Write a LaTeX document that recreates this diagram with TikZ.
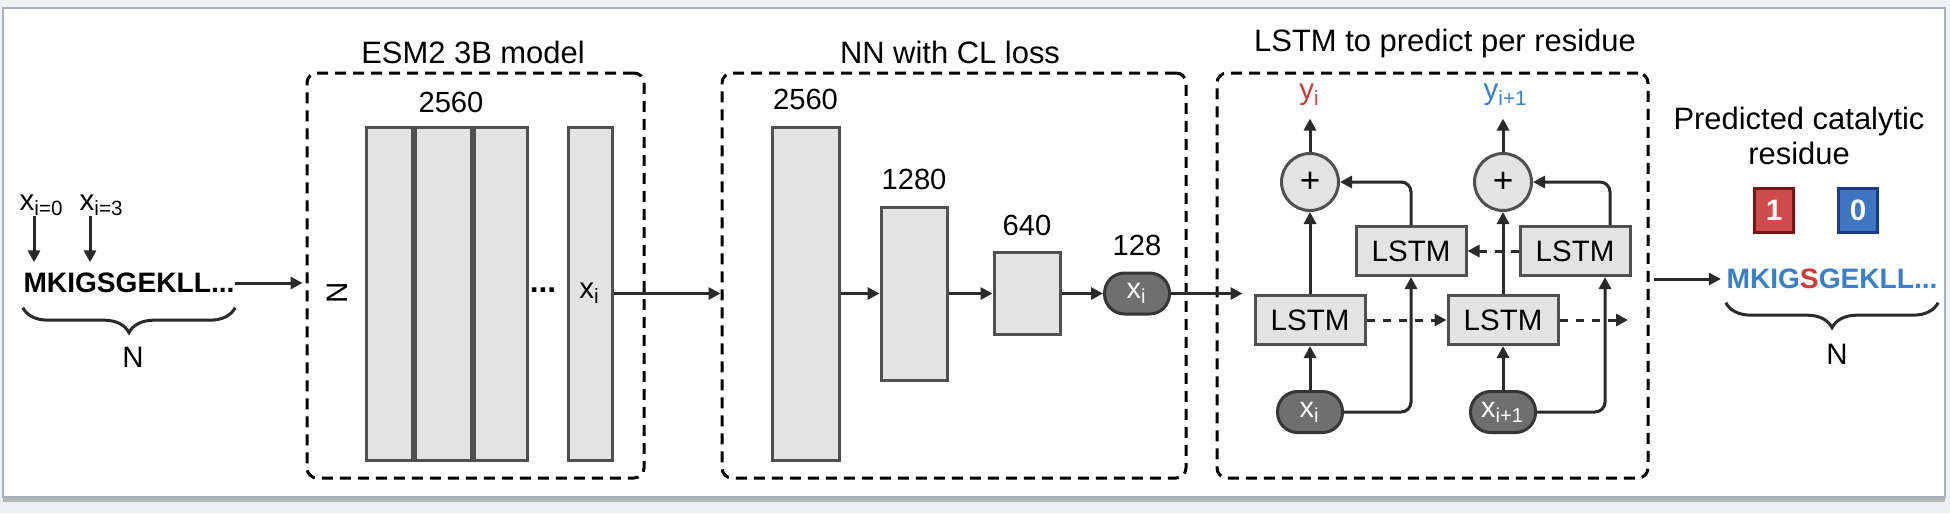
\documentclass[tikz,border=0pt]{standalone}
\usepackage{fontspec}
\setmainfont{Liberation Sans}
\usepackage{tikz}
\usetikzlibrary{arrows.meta, positioning, decorations.pathreplacing, shadows}
\newcommand{\fsz}[1]{\fontsize{#1pt}{#1pt}\selectfont}
\definecolor{layergray}{HTML}{E3E3E3}
\definecolor{edgegray}{HTML}{505050}
\definecolor{pillgray}{HTML}{6F6F6F}
\definecolor{pilledge}{HTML}{363636}
\definecolor{arrowgray}{HTML}{2A2A2A}
\definecolor{resred}{HTML}{CC3B3B}
\definecolor{resblue}{HTML}{3A7FC8}
\definecolor{bitred}{HTML}{CD4B4B}
\definecolor{bitredline}{HTML}{7A1515}
\definecolor{bitblue}{HTML}{3F76C2}
\definecolor{bitblueline}{HTML}{1C3A85}
\definecolor{pagebg}{HTML}{EEF0F3}
\definecolor{panelline}{HTML}{A7B0BE}
\tikzset{
  stagebox/.style={rectangle, draw=black, line width=0.3mm, dash pattern=on 1.1mm off 0.7mm,
                   rounded corners=1mm, inner sep=0pt},
  stagetitle/.style={font=\fsz{8.8}, inner sep=0pt},
  layer/.style={rectangle, draw=edgegray, fill=layergray, line width=0.3mm, inner sep=0pt},
  dimlabel/.style={font=\fsz{8.3}, inner sep=0pt},
  embpill/.style={rectangle, rounded corners=2mm, draw=pilledge, fill=pillgray, line width=0.3mm,
                  minimum width=6.5mm, minimum height=4.1mm, inner sep=0pt, text=white, font=\fsz{8.2}},
  lstmcell/.style={layer, minimum width=11mm, minimum height=4.9mm, font=\fsz{8.4}},
  sumnode/.style={circle, draw=edgegray, fill=layergray, line width=0.3mm, minimum size=5.7mm,
                  inner sep=0pt, font=\fsz{10}},
  bitbox/.style={rectangle, line width=0.3mm, minimum width=3.9mm, minimum height=4.4mm,
                 inner sep=0pt, text=white, font=\fsz{8.4}\bfseries},
  seqtext/.style={font=\fsz{8}\bfseries, inner sep=0pt},
  plain/.style={font=\fsz{8.4}, inner sep=0pt},
  flow/.style={-{Triangle[length=1.2mm, width=1.2mm]}, line width=0.3mm, draw=arrowgray},
  recur/.style={flow, dash pattern=on 0.8mm off 0.8mm},
  seqbrace/.style={decorate, decoration={brace, amplitude=2.5mm}, line width=0.3mm, draw=arrowgray},
}

\begin{document}
\begin{tikzpicture}[x=0.1mm, y=-0.1mm]
    \useasboundingbox (0,0) rectangle (1950,513);
    % Moldura
    \fill[pagebg] (0,0) rectangle (1950,513);
    \draw[fill=white, draw=panelline, line width=0.25mm,
          drop shadow={shadow xshift=0mm, shadow yshift=-0.5mm, opacity=0.5}] (3,8) rectangle (1945,497);
    % Sequencia de entrada
    \node[seqtext] (seqin) at (129,283) {MKIGSGEKLL...};
    \node[plain] (idx0) at (42,205) {x\textsubscript{i=0}};
    \node[plain] (idx3) at (102,205) {x\textsubscript{i=3}};
    \draw[flow, shorten >=1mm] ([xshift=-0.8mm]idx0.south) -- ([xshift=-0.8mm]idx0.south |- seqin.north);
    \draw[flow, shorten >=1mm] ([xshift=-1.2mm]idx3.south) -- ([xshift=-1.2mm]idx3.south |- seqin.north);
    \draw[seqbrace] ([yshift=-1.4mm]seqin.south east) -- ([yshift=-1.4mm]seqin.south west);
    \node[plain] (nin) at (133,357) {N};
    % Bloco ESM2
    \node[stagebox, minimum width=33.7mm, minimum height=40.5mm] (esm) at (475.5,275.5) {};
    \node[stagetitle] (esmtitle) at (473,52) {ESM2 3B model};
    \node[layer, minimum width=4.6mm, minimum height=33.3mm] (esmc1) at (389,293.5) {};
    \node[layer, minimum width=5.6mm, minimum height=33.3mm, right=0pt of esmc1] (esmc2) {};
    \node[layer, minimum width=5.3mm, minimum height=33.3mm, right=0pt of esmc2] (esmc3) {};
    \node[layer, minimum width=4.4mm, minimum height=33.3mm, font=\fsz{8.4}] (esmxi) at (590,293.5) {x\textsubscript{i}};
    \node[plain, font=\fsz{9}\bfseries] (esmdots) at (543,290) {...};
    \node[plain, rotate=90] (esmn) at (337,293) {N};
    \node[dimlabel] (esmdim) at (451,102) {2560};
    \draw[flow, shorten >=0.3mm] (seqin.east) -- (seqin.east -| esm.west);
    % Bloco NN
    \node[stagebox, minimum width=46.4mm, minimum height=40.5mm] (nn) at (954,275.5) {};
    \node[stagetitle] (nntitle) at (950,52) {NN with CL loss};
    \node[layer, minimum width=6.7mm, minimum height=33.3mm] (nn1) at (805.5,293.5) {};
    \node[layer, minimum width=6.6mm, minimum height=17.3mm] (nn2) at (914,293.5) {};
    \node[layer, minimum width=6.6mm, minimum height=8.2mm] (nn3) at (1027,293.5) {};
    \node[embpill] (emb) at (1137,293.5) {x\textsubscript{i}};
    \node[dimlabel, above=1.5mm of nn1] (nn1dim) {2560};
    \node[dimlabel, above=1.5mm of nn2] (nn2dim) {1280};
    \node[dimlabel, above=1.5mm of nn3] (nn3dim) {640};
    \node[dimlabel, above=1.5mm of emb] (embdim) {128};
    \draw[flow] (esmxi.east) -- (esmxi.east -| nn.west);
    \draw[flow] (nn1) -- (nn2);
    \draw[flow] (nn2) -- (nn3);
    \draw[flow] (nn3) -- (emb);
    % Bloco LSTM
    \node[stagebox, minimum width=43.1mm, minimum height=40.5mm] (lstm) at (1432.5,275.5) {};
    \node[stagetitle] (lstmtitle) at (1445,43) {LSTM to predict per residue};
    \node[lstmcell] (cellA) at (1310,320) {LSTM};
    \node[lstmcell] (cellB) at (1503,320) {LSTM};
    \node[lstmcell] (cellC) at (1411,251) {LSTM};
    \node[lstmcell] (cellD) at (1575,251) {LSTM};
    \node[sumnode] (sumA) at (1310,182) {+};
    \node[sumnode] (sumB) at (1503,182) {+};
    \node[embpill] (inA) at (1310,412) {x\textsubscript{i}};
    \node[embpill] (inB) at (1503,412) {x\textsubscript{i+1}};
    \node[plain, text=resred] (outA) at (1310,95) {y\textsubscript{i}};
    \node[plain, text=resblue] (outB) at (1506,95) {y\textsubscript{i+1}};
    \coordinate (cellnext) at (1628,320);
    \draw[flow, shorten >=1.1mm] (emb) -- (emb -| cellA.west);
    \draw[flow] (inA) -- (cellA);
    \draw[flow] (inB) -- (cellB);
    \draw[flow] (cellA) -- (sumA);
    \draw[flow] (cellB) -- (sumB);
    \draw[flow, shorten >=1.2mm] (sumA) -- (outA);
    \draw[flow, shorten >=1.2mm] (sumB) -- (outB.south -| sumB);
    \draw[flow, rounded corners=1mm] (cellC.north) |- (sumA.east);
    \draw[flow, rounded corners=1mm] ([xshift=3.5mm]cellD.north) |- (sumB.east);
    \draw[flow, rounded corners=1mm] (inA.east) -| (cellC.south);
    \draw[flow, rounded corners=1mm] (inB.east) -| ([xshift=3mm]cellD.south);
    \draw[recur] (cellA) -- (cellB);
    \draw[recur] (cellB) -- (cellnext);
    \draw[recur] (cellD) -- (cellC);
    % Saida
    \node[stagetitle, align=center, font=\fontsize{8.8pt}{10.2pt}\selectfont] (predtitle) at (1799,136)
      {Predicted catalytic\\residue};
    \node[bitbox, fill=bitred, draw=bitredline] (bit1) at (1774,210) {1};
    \node[bitbox, fill=bitblue, draw=bitblueline] (bit0) at (1858,210) {0};
    \node[seqtext] (seqout) at (1832,279)
      {\textcolor{resblue}{MKIG}\textcolor{resred}{S}\textcolor{resblue}{GEKLL...}};
    \draw[flow, shorten <=0.4mm, shorten >=0.5mm] (lstm.east |- seqout) -- (seqout.west);
    \draw[seqbrace] ([yshift=-1.3mm]seqout.south east) -- ([yshift=-1.3mm]seqout.south west);
    \node[plain] (nout) at (1837,354) {N};
\end{tikzpicture}
\end{document}
